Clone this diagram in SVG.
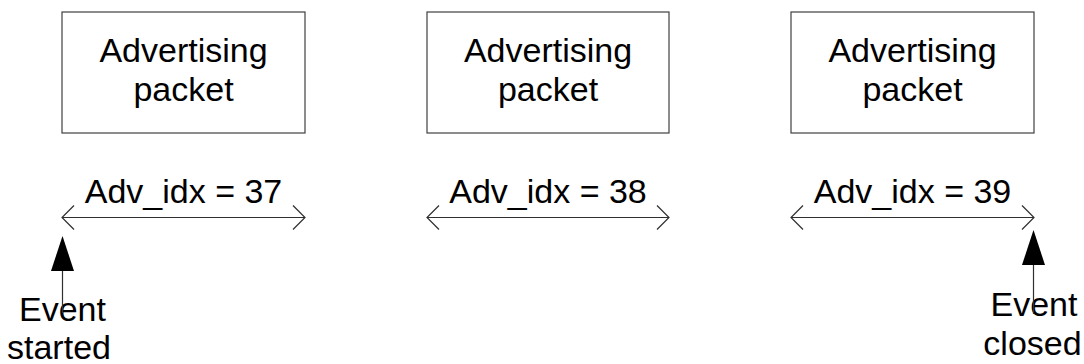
<svg xmlns="http://www.w3.org/2000/svg" width="1084" height="364" viewBox="0 0 1084 364">
  <defs>
    <style>
      .box { fill: #ffffff; stroke: #404040; stroke-width: 1.2; }
      .lbl { font-family: "Liberation Sans", Arial, sans-serif; font-size: 34px; fill: #000000; text-anchor: middle; }
      .span { fill: none; stroke: #303030; stroke-width: 1.2; }
      .tick { fill: none; stroke: #303030; stroke-width: 1.2; }
      .pointer { stroke: #303030; stroke-width: 1.2; }
      .head { fill: #000000; stroke: none; }
    </style>
  </defs>
  <rect width="1084" height="364" fill="#ffffff"/>

  <!-- packet boxes -->
  <g id="packet1">
    <rect class="box" x="62" y="12" width="243" height="121"/>
    <text class="lbl" x="183.5" y="62">Advertising</text>
    <text class="lbl" x="183.5" y="101">packet</text>
  </g>
  <g id="packet2">
    <rect class="box" x="427" y="12" width="242" height="121"/>
    <text class="lbl" x="548" y="62">Advertising</text>
    <text class="lbl" x="548" y="101">packet</text>
  </g>
  <g id="packet3">
    <rect class="box" x="791" y="12" width="243" height="121"/>
    <text class="lbl" x="912.5" y="62">Advertising</text>
    <text class="lbl" x="912.5" y="101">packet</text>
  </g>

  <!-- index labels -->
  <g id="idx37"><text class="lbl" x="183.5" y="203">Adv_idx = 37</text></g>
  <g id="idx38"><text class="lbl" x="548" y="203">Adv_idx = 38</text></g>
  <g id="idx39"><text class="lbl" x="912.5" y="203">Adv_idx = 39</text></g>

  <!-- event labels -->
  <g id="event-started">
    <text class="lbl" x="62.5" y="321">Event</text>
    <text class="lbl" x="59" y="359">started</text>
  </g>
  <g id="event-closed">
    <text class="lbl" x="1034" y="316">Event</text>
    <text class="lbl" x="1032.5" y="355">closed</text>
  </g>

  <!-- connectors -->
  <g id="connectors">
    <!-- interval spans with open heads at both ends -->
    <line class="span" x1="62" y1="217.5" x2="305" y2="217.5"/>
    <polyline class="tick" points="74,205.5 62,217.5 74,229.5"/>
    <polyline class="tick" points="293,205.5 305,217.5 293,229.5"/>

    <line class="span" x1="427" y1="217.5" x2="669" y2="217.5"/>
    <polyline class="tick" points="439,205.5 427,217.5 439,229.5"/>
    <polyline class="tick" points="657,205.5 669,217.5 657,229.5"/>

    <line class="span" x1="791" y1="217.5" x2="1034" y2="217.5"/>
    <polyline class="tick" points="803,205.5 791,217.5 803,229.5"/>
    <polyline class="tick" points="1022,205.5 1034,217.5 1022,229.5"/>

    <!-- event pointers -->
    <line class="pointer" x1="62.5" y1="270" x2="62.5" y2="313"/>
    <polygon class="head" points="62.5,236 51,271 74,271"/>

    <line class="pointer" x1="1033.5" y1="264" x2="1033.5" y2="314"/>
    <polygon class="head" points="1033.5,230 1022,265 1045,265"/>
  </g>
</svg>
